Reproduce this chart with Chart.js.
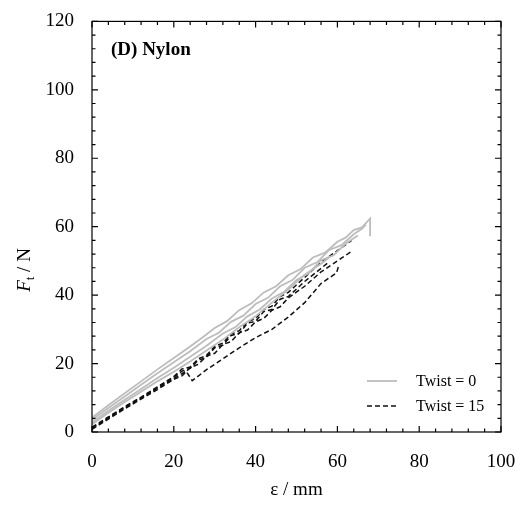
<!DOCTYPE html>
<html>
<head>
<meta charset="utf-8">
<script src="https://cdn.jsdelivr.net/npm/chart.js@4.4.0/dist/chart.umd.min.js"></script>
<style>
    body { margin: 0; background: #fff; }
    #wrap { width: 528px; height: 506px; }
</style>
</head>
<body>
<div id="wrap"><canvas id="nylonChart" width="528" height="506"></canvas></div>
<script>
/* ========================================
   Nylon tensile curves - Twist = 0 vs 15
   ======================================== */

// strain (mm) / force (N), Twist = 0
const strainG1 = [0, 4, 8, 12, 16, 20, 24, 27, 30, 33, 36, 39, 42, 45, 48, 51, 54, 57, 60, 62, 64, 66, 68, 68];
const forceG1  = [4.2, 7.8, 11.3, 14.8, 18.3, 21.6, 25.0, 27.6, 30.4, 32.4, 35.6, 37.6, 40.8, 42.6, 45.8, 47.6, 51.0, 52.4, 55.6, 56.8, 59.0, 59.8, 62.4, 57.2];
const strainG2 = [0, 4, 8, 12, 16, 20, 24, 28, 31, 34, 37, 40, 43, 46, 49, 52, 55, 58, 61, 64, 66, 67];
const forceG2  = [3.6, 7.0, 10.4, 13.8, 17.2, 20.4, 23.6, 27.2, 29.0, 32.2, 34.0, 37.4, 39.2, 42.6, 44.4, 48.0, 49.6, 53.2, 54.6, 57.8, 59.4, 60.6];
const strainG3 = [0, 4, 8, 12, 16, 20, 24, 28, 32, 35, 38, 41, 44, 47, 50, 53, 56, 59, 62, 65];
const forceG3  = [2.8, 6.2, 9.4, 12.6, 15.8, 18.8, 22.0, 25.2, 28.8, 30.6, 33.8, 35.8, 39.0, 41.0, 44.4, 46.4, 50.2, 51.6, 55.0, 57.4];
const strainG4 = [0, 4, 8, 12, 16, 20, 24, 28, 32, 36, 40, 44, 48, 52, 56, 58];
const forceG4  = [2.2, 5.6, 8.8, 11.8, 14.8, 17.6, 20.6, 23.8, 27.0, 30.6, 33.8, 37.8, 41.6, 46.0, 49.2, 51.0];

// Twist = 15
const strainB1 = [0, 4, 8, 12, 16, 20, 22, 24, 26, 28, 30, 32, 34, 36, 38, 40, 42, 44, 46, 48, 52, 56, 60, 63.5];
const forceB1  = [1.4, 4.4, 7.4, 10.2, 13.2, 16.2, 18.4, 19.0, 21.4, 22.4, 25.0, 26.0, 28.6, 29.6, 32.2, 33.2, 35.8, 36.8, 39.6, 40.8, 45.2, 49.6, 53.0, 56.0];
const strainB2 = [0, 4, 8, 12, 16, 20, 22, 24, 26, 28, 30, 32, 34, 36, 38, 40, 42, 44, 46, 48, 52, 56, 60, 63.5];
const forceB2  = [0.8, 3.8, 6.8, 9.6, 12.4, 15.4, 16.4, 18.8, 19.8, 22.2, 23.0, 25.6, 26.4, 29.0, 29.8, 32.2, 33.2, 35.6, 36.6, 39.2, 42.6, 46.8, 50.0, 52.8];
const strainB3 = [0, 4, 8, 12, 16, 20, 23, 24.5, 28, 32, 36, 40, 44, 48, 52, 56, 59.8, 60.4];
const forceB3  = [1.0, 4.0, 7.0, 9.8, 12.8, 15.6, 17.8, 15.0, 18.2, 21.4, 24.6, 27.6, 30.0, 33.6, 37.8, 43.4, 46.5, 49.0];
const strainB4 = [0, 4, 8, 12, 16, 20, 22, 24, 26, 28, 30, 32, 34, 36, 38, 40, 42, 44, 46, 48, 52, 56, 58];
const forceB4  = [1.2, 4.2, 7.2, 10.0, 13.0, 16.0, 17.8, 18.6, 21.0, 21.8, 24.6, 25.4, 28.2, 28.8, 31.8, 32.4, 35.2, 35.8, 38.8, 39.6, 44.0, 47.8, 49.8];

const xTicks = [0, 20, 40, 60, 80, 100];
const yTicks = [0, 20, 40, 60, 80, 100, 120];
const legendLabels = ['Twist = 0', 'Twist = 15'];

const SERIF = "'Liberation Serif', 'Times New Roman', serif";
const GREY = '#bdbdbd';

function toPoints(xs, ys) {
    return xs.map((x, i) => ({ x: x, y: ys[i] }));
}

function greyLine(xs, ys) {
    return {
        data: toPoints(xs, ys),
        borderColor: GREY,
        borderWidth: 1.8,
        showLine: true,
        pointRadius: 0,
        tension: 0
    };
}

function dashedLine(xs, ys) {
    return {
        data: toPoints(xs, ys),
        borderColor: '#111',
        borderWidth: 1.5,
        borderDash: [5, 3],
        showLine: true,
        pointRadius: 0,
        tension: 0
    };
}

// frame, inward ticks, legend, y title
const framePlugin = {
    id: 'frame',
    afterDraw(chart) {
        const ctx = chart.ctx;
        const a = chart.chartArea;
        const xs = chart.scales.x, ys = chart.scales.y;
        ctx.save();
        ctx.strokeStyle = '#000';
        ctx.lineWidth = 1.2;
        ctx.strokeRect(a.left, a.top, a.right - a.left, a.bottom - a.top);

        ctx.beginPath();
        for (let v = 0; v <= 100; v += 4) {
            const len = v % 20 === 0 ? 6 : 3.5;
            const px = xs.getPixelForValue(v);
            ctx.moveTo(px, a.bottom); ctx.lineTo(px, a.bottom - len);
            ctx.moveTo(px, a.top); ctx.lineTo(px, a.top + len);
        }
        for (let v = 0; v <= 120; v += 4) {
            const len = v % 20 === 0 ? 6 : 3.5;
            const py = ys.getPixelForValue(v);
            ctx.moveTo(a.left, py); ctx.lineTo(a.left + len, py);
            ctx.moveTo(a.right, py); ctx.lineTo(a.right - len, py);
        }
        ctx.stroke();

        // panel label
        ctx.fillStyle = '#000';
        ctx.font = 'bold 19px ' + SERIF;
        ctx.textBaseline = 'middle';
        ctx.textAlign = 'left';
        ctx.fillText('(D) Nylon', 111, 50);

        // legend
        ctx.font = '16px ' + SERIF;
        ctx.lineWidth = 1.8;
        ctx.strokeStyle = GREY;
        ctx.beginPath();
        ctx.moveTo(367, 381); ctx.lineTo(397, 381);
        ctx.stroke();
        ctx.fillText(legendLabels[0], 416, 382);
        ctx.strokeStyle = '#111';
        ctx.lineWidth = 1.5;
        ctx.setLineDash([5, 3]);
        ctx.beginPath();
        ctx.moveTo(367, 406); ctx.lineTo(399, 406);
        ctx.stroke();
        ctx.setLineDash([]);
        ctx.fillText(legendLabels[1], 416, 407);

        // y title: F_t / N
        ctx.translate(24, 270);
        ctx.rotate(-Math.PI / 2);
        ctx.font = 'italic 19px ' + SERIF;
        const wF = ctx.measureText('F').width;
        ctx.font = '13px ' + SERIF;
        const wt = ctx.measureText('t').width;
        ctx.font = '19px ' + SERIF;
        const wN = ctx.measureText(' / N').width;
        let x0 = -(wF + wt + wN) / 2;
        ctx.textBaseline = 'alphabetic';
        ctx.font = 'italic 19px ' + SERIF;
        ctx.fillText('F', x0, 6);
        ctx.font = '13px ' + SERIF;
        ctx.fillText('t', x0 + wF, 10);
        ctx.font = '19px ' + SERIF;
        ctx.fillText(' / N', x0 + wF + wt, 6);
        ctx.restore();
    }
};

document.addEventListener('DOMContentLoaded', function() {
    const ctx = document.getElementById('nylonChart');

    new Chart(ctx, {
        type: 'scatter',
        data: {
            datasets: [
                greyLine(strainG1, forceG1),
                greyLine(strainG2, forceG2),
                greyLine(strainG3, forceG3),
                greyLine(strainG4, forceG4),
                dashedLine(strainB1, forceB1),
                dashedLine(strainB2, forceB2),
                dashedLine(strainB3, forceB3),
                dashedLine(strainB4, forceB4)
            ]
        },
        options: {
            responsive: false,
            animation: false,
            layout: { padding: { left: 0, top: 18, right: 27, bottom: 0 } },
            plugins: {
                legend: { display: false },
                tooltip: { enabled: false }
            },
            scales: {
                x: {
                    type: 'linear',
                    min: 0,
                    max: 100,
                    afterFit: s => { s.height = 74; },
                    afterBuildTicks: s => { s.ticks = xTicks.map(v => ({ value: v })); },
                    grid: { display: false },
                    border: { display: false },
                    ticks: {
                        padding: 11,
                        color: '#000',
                        maxRotation: 0,
                        font: { family: SERIF, size: 19 }
                    },
                    title: {
                        display: true,
                        text: 'ε / mm',
                        color: '#000',
                        font: { family: SERIF, size: 19 },
                        padding: { top: 4, bottom: 5 }
                    }
                },
                y: {
                    type: 'linear',
                    min: 0,
                    max: 120,
                    afterFit: s => { s.width = 92; },
                    afterBuildTicks: s => { s.ticks = yTicks.map(v => ({ value: v })); },
                    grid: { display: false },
                    border: { display: false },
                    ticks: {
                        padding: 10,
                        color: '#000',
                        font: { family: SERIF, size: 19 }
                    }
                }
            }
        },
        plugins: [framePlugin]
    });
});
</script>
</body>
</html>
